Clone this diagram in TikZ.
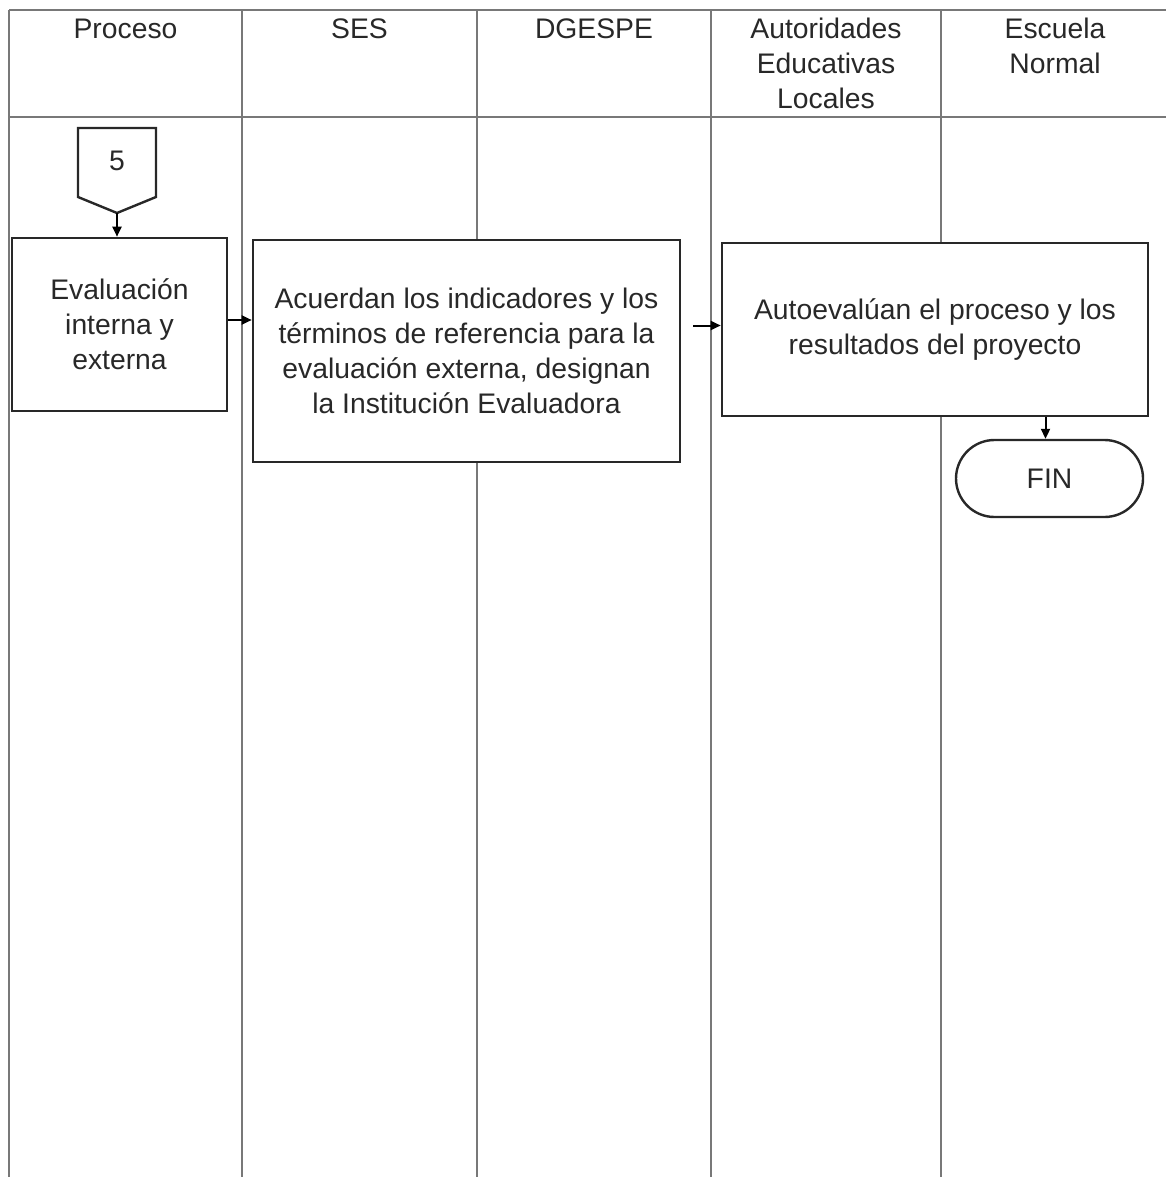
\documentclass[tikz,border=0pt]{standalone}
\usepackage{fontspec}
\setmainfont{Liberation Sans}
\usetikzlibrary{arrows.meta,shapes.misc}
\definecolor{gridc}{RGB}{120,120,120}
\definecolor{boxc}{RGB}{40,40,40}
\definecolor{txt}{RGB}{40,40,40}
\begin{document}
\begin{tikzpicture}[x=1pt,y=-1pt,
  lane/.style={draw=gridc,line width=1.8pt},
  lbl/.style={text=txt,font=\fontsize{28.3}{35}\selectfont},
  hdr/.style={lbl,anchor=north,inner sep=0pt,align=center},
  proc/.style={lbl,draw=boxc,line width=2.6pt,fill=white,align=center,inner sep=0pt},
  term/.style={lbl,rounded rectangle,draw=boxc,line width=2.4pt,fill=white,inner sep=0pt,minimum width=187pt,minimum height=77pt},
  arr/.style={draw=black,line width=2pt,-{Triangle[length=10pt,width=9pt]}}]
\useasboundingbox (0,0) rectangle (1166,1177);
% lanes
\draw[lane] (9,10) -- (1166,10);
\draw[lane] (9,117) -- (1166,117);
\foreach \x in {9,242,477,711,941} \draw[lane] (\x,10) -- (\x,1177);
% headers
\node[hdr] (hP) at (125.5,13.7) {\strut Proceso};
\node[hdr] (hS) at (359.5,13.7) {\strut SES};
\node[hdr] (hD) at (594,13.7) {\strut DGESPE};
\node[hdr] (hA) at (826,13.7) {\strut Autoridades\\\strut Educativas\\\strut Locales};
\node[hdr] (hE) at (1055,13.7) {\strut Escuela\\\strut Normal};
% off-page connector
\draw[draw=boxc,line width=2.4pt,fill=white] (78,128) -- (156,128) -- (156,197) -- (117,213) -- (78,197) -- cycle;
\node[lbl,inner sep=0pt] (c5) at (117,161) {5};
\coordinate (c5tip) at (117,213);
% process boxes
\node[proc,minimum width=215pt,minimum height=173pt] (b1) at (119.5,324.5)
  {Evaluación\\interna y\\externa};
\node[proc,minimum width=427pt,minimum height=222pt] (b2) at (466.5,351)
  {Acuerdan los indicadores y los\\términos de referencia para la\\evaluación externa, designan\\la Institución Evaluadora};
\node[proc,minimum width=426pt,minimum height=173pt] (b3) at (935,329.5)
  {Autoevalúan el proceso y los\\resultados del proyecto};
\node[term] (fin) at (1049.5,478.5) {FIN};
% connectors
\draw[arr] (c5tip) -- (c5tip |- b1.north);
\draw[arr] ([yshift=4.5pt]b1.east) -- ([yshift=4.5pt]b1.east -| b2.west);
\draw[arr,shorten <=12pt] ([yshift=4pt]b3.west -| b2.east) -- ([yshift=4pt]b3.west);
\draw[arr] ([xshift=-4pt]fin.north |- b3.south) -- ([xshift=-4pt]fin.north);
\end{tikzpicture}
\end{document}
